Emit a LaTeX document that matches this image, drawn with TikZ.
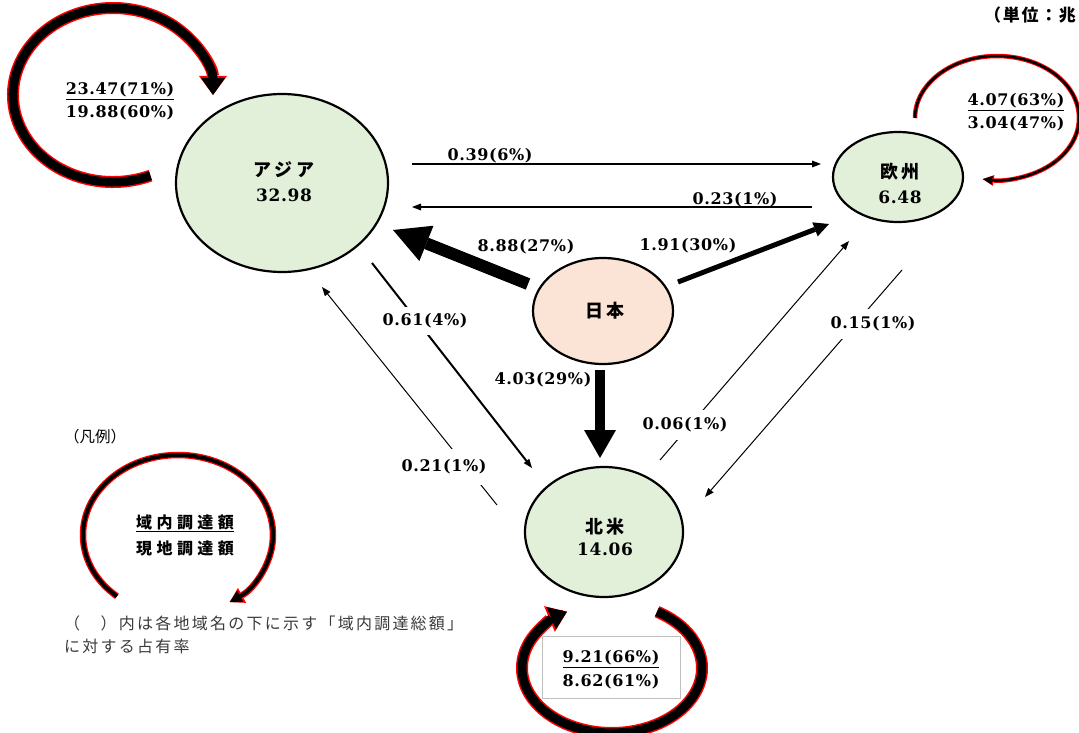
\documentclass[tikz,border=0pt]{standalone}
\usepackage{fontspec}
\setmainfont{DejaVu Serif}
\newfontfamily\numf{DejaVu Serif}[LetterSpace=4]
\newfontfamily\jpf{Noto Sans CJK JP}[LetterSpace=20]
\newfontfamily\jplg{Noto Sans CJK JP}[LetterSpace=28]
\newfontfamily\jpnote{Noto Sans CJK JP}[LetterSpace=14]
\newfontfamily\jpunit{Noto Sans CJK JP}[LetterSpace=10]
\newfontfamily\jpn{Noto Sans CJK JP}
\usetikzlibrary{arrows.meta,shapes.geometric}
\definecolor{regfill}{HTML}{E2EFD9}
\definecolor{jpfill}{HTML}{FBE4D5}
\definecolor{notegray}{HTML}{3A3A3A}
\definecolor{boxgray}{HTML}{BFBFBF}
\begin{document}
\begin{tikzpicture}[x=1pt,y=1pt,
  region/.style={ellipse, draw, line width=2.2pt, fill=regfill, inner sep=0pt},
  numtxt/.style={font=\numf\bfseries\fontsize{16}{18}\selectfont, inner sep=1pt},
  nodenum/.style={font=\numf\bfseries\fontsize{17}{19}\selectfont, inner sep=1pt},
  nodejp/.style={font=\jpf\bfseries\fontsize{18}{20}\selectfont, inner sep=1pt},
  gaplbl/.style={numtxt, fill=white, inner xsep=1pt, inner ysep=9pt},
  thinarr/.style={line width=1.1pt, -{Triangle[length=9pt,width=7pt,line width=0pt]}},
  loopred/.style={draw=red, line width=#1},
  loopblk/.style={draw=black, line width=#1}
]
\useasboundingbox (0,0) rectangle (1079,-733);

% ---------- self loops ----------
\coordinate (asiaL) at (113,-95);
\coordinate (euL) at (997,-118);
\coordinate (naL) at (612,-668);
\coordinate (legL) at (178,-535);

% Asia loop
\draw[loopred=12pt, -{Triangle[length=19pt,width=28pt,line width=0pt]}]
  ([shift={(292:100 and 87)}]asiaL) arc[start angle=292,end angle=0,x radius=100,y radius=87];
\draw[loopblk=9pt, -{Triangle[length=17pt,width=24pt,line width=0pt]}]
  ([shift={(292:100 and 87)}]asiaL) arc[start angle=292,end angle=0,x radius=100,y radius=87];

% Europe loop
\draw[loopred=4.5pt, -{Triangle[length=11pt,width=11pt,line width=0pt]}]
  ([shift={(180:82 and 62)}]euL) arc[start angle=180,end angle=-100,x radius=82,y radius=62];
\draw[loopblk=2.5pt, -{Triangle[length=9.5pt,width=8.5pt,line width=0pt]}]
  ([shift={(180:82 and 62)}]euL) arc[start angle=180,end angle=-100,x radius=82,y radius=62];

% North America loop
\draw[loopred=12pt, -{Triangle[length=19pt,width=28pt,line width=0pt]}]
  ([shift={(60:90 and 65)}]naL) arc[start angle=60,end angle=-240,x radius=90,y radius=65];
\draw[loopblk=9pt, -{Triangle[length=17pt,width=24pt,line width=0pt]}]
  ([shift={(60:90 and 65)}]naL) arc[start angle=60,end angle=-240,x radius=90,y radius=65];

% Legend loop
\draw[loopred=6.5pt, -{Triangle[length=14pt,width=17pt,line width=0pt]}]
  ([shift={(230:95 and 80)}]legL) arc[start angle=230,end angle=-57,x radius=95,y radius=80];
\draw[loopblk=4pt, -{Triangle[length=12pt,width=13pt,line width=0pt]}]
  ([shift={(230:95 and 80)}]legL) arc[start angle=230,end angle=-57,x radius=95,y radius=80];

% ---------- regions ----------
\node[region, minimum width=212pt, minimum height=178pt] (asia) at (282,-183) {};
\node[region, minimum width=130pt, minimum height=90pt] (eu) at (898,-177) {};
\node[region, fill=jpfill, minimum width=140pt, minimum height=106pt] (jp) at (603,-311) {};
\node[region, minimum width=158pt, minimum height=130pt] (na) at (604,-532) {};

\node[nodejp] (asiaN) at (284,-170) {アジア};
\node[nodenum] (asiaV) at (284,-195) {32.98};
\node[nodejp] (euN) at (900,-172) {欧州};
\node[nodenum] (euV) at (900,-197) {6.48};
\node[nodejp] (jpN) at (605,-311) {日本};
\node[nodejp] (naN) at (605,-527) {北米};
\node[nodenum] (naV) at (605,-549) {14.06};

% ---------- connector end points ----------
\coordinate (a39s) at (412,-164);  \coordinate (a39e) at (821,-164);
\coordinate (a23s) at (812,-207);  \coordinate (a23e) at (412,-207);
\coordinate (a88s) at (528,-284);  \coordinate (a88e) at (393,-230);
\coordinate (a191s) at (678,-282); \coordinate (a191e) at (829,-224);
\coordinate (a403s) at (600,-370); \coordinate (a403e) at (600,-458);
\coordinate (a61s) at (372,-263);  \coordinate (a61e) at (532,-468);
\coordinate (a21s) at (497,-505);  \coordinate (a21e) at (322,-287);
\coordinate (a06s) at (660,-460);  \coordinate (a06e) at (849,-241);
\coordinate (a15s) at (902,-270);  \coordinate (a15e) at (705,-497);

% ---------- connectors ----------
\draw[thinarr, line width=1.6pt] (a39s) -- (a39e);
\draw[thinarr, line width=1.2pt] (a23s) -- (a23e);
\draw[line width=12pt, -{Triangle[length=36pt,width=38pt,line width=0pt]}] (a88s) -- (a88e);
\draw[line width=5pt, -{Triangle[length=15pt,width=15pt,line width=0pt]}] (a191s) -- (a191e);
\draw[line width=10pt, -{Triangle[length=28pt,width=32pt,line width=0pt]}] (a403s) -- (a403e);
\draw[thinarr, line width=2pt] (a61s) -- (a61e);
\draw[thinarr, line width=1pt] (a21s) -- (a21e);
\draw[thinarr, line width=1pt] (a06s) -- (a06e);
\draw[thinarr, line width=1pt] (a15s) -- (a15e);

% ---------- connector labels ----------
\node[numtxt] (l39) at (490,-156) {0.39(6\%)};
\node[numtxt] (l23) at (735,-200) {0.23(1\%)};
\node[numtxt] (l88) at (526,-247) {8.88(27\%)};
\node[numtxt] (l191) at (688,-246) {1.91(30\%)};
\node[numtxt] (l403) at (543,-380) {4.03(29\%)};
\node[gaplbl, inner ysep=7pt] (l61) at (425,-321) {0.61(4\%)};
\node[gaplbl, inner ysep=11pt] (l21) at (444,-467) {0.21(1\%)};
\node[gaplbl, inner ysep=8pt] (l06) at (685,-425) {0.06(1\%)};
\node[gaplbl, inner ysep=8pt] (l15) at (873,-324) {0.15(1\%)};

% ---------- loop labels ----------
\node[numtxt] (asiaIn) at (120,-91) {\underline{23.47(71\%)}};
\node[numtxt] (asiaLoc) at (120,-113) {19.88(60\%)};
\node[numtxt] (euIn) at (1016,-102) {\underline{4.07(63\%)}};
\node[numtxt] (euLoc) at (1016,-124) {3.04(47\%)};
\node[draw=boxgray, line width=0.8pt, fill=white, minimum width=138pt, minimum height=62pt] (naBox) at (611,-667) {};
\node[numtxt] (naIn) at (611,-659) {\underline{9.21(66\%)}};
\node[numtxt] (naLoc) at (611,-682) {8.62(61\%)};

% ---------- legend & notes ----------
\node[font=\jpn\fontsize{15.5}{17}\selectfont, inner sep=0pt] (leg) at (95,-437) {（凡例）};
\node[font=\jplg\bfseries\fontsize{16}{18}\selectfont, inner sep=1pt] (legIn) at (185,-523) {\underline{域内調達額}};
\node[font=\jplg\bfseries\fontsize{16}{18}\selectfont, inner sep=1pt] (legLoc) at (185,-548) {現地調達額};
\node[font=\jpnote\fontsize{16}{23}\selectfont, text=notegray, anchor=north west, align=left, inner sep=0pt] (note) at (64,-616)
  {（　）内は各地域名の下に示す「域内調達総額」\\に対する占有率};
\node[font=\jpunit\bfseries\fontsize{17}{19}\selectfont, anchor=west, inner sep=0pt] (unit) at (984,-15) {（単位：兆};
\end{tikzpicture}
\end{document}
